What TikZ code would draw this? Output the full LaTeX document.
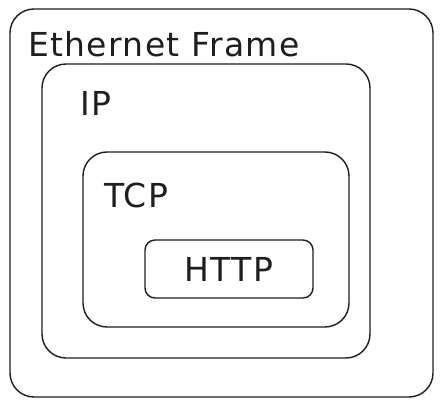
\documentclass[tikz,border=0pt]{standalone}
\usepackage{fontspec}
\setmainfont[LetterSpace=4]{DejaVu Sans}
\usepackage{tikz}
\usetikzlibrary{positioning}
\definecolor{inkblack}{RGB}{30,30,30}
\tikzset{
  layer/.style={draw=inkblack,line width=1.4pt,fill=white,
    rounded corners=24pt,inner sep=0pt},
  tinylayer/.style={draw=inkblack,line width=1.4pt,fill=white,
    rounded corners=10pt,inner sep=0pt},
  lab/.style={font=\fontsize{33}{36}\selectfont,text=inkblack,
    anchor=west,inner sep=0pt}
}

\begin{document}
\begin{tikzpicture}[x=1pt,y=-1pt]
  \useasboundingbox (0,0) rectangle (442,406);
  \node[layer,minimum width=423pt,minimum height=388pt] (frame) at (221.5,203) {};
  \node[layer,minimum width=328pt,minimum height=294pt] (ip) at (206,211) {};
  \node[layer,minimum width=266pt,minimum height=175pt] (tcp) at (216,239.5) {};
  \node[tinylayer,minimum width=168pt,minimum height=58pt] (http) at (229,269) {};
  \node[lab] (framelab) at (28,44) {Ethernet Frame};
  \node[lab] (iplab) at (80,103) {IP};
  \node[lab] (tcplab) at (104,195) {TCP};
  \node[lab,anchor=center] (httplab) at (http.center) {HTTP};
\end{tikzpicture}
\end{document}
